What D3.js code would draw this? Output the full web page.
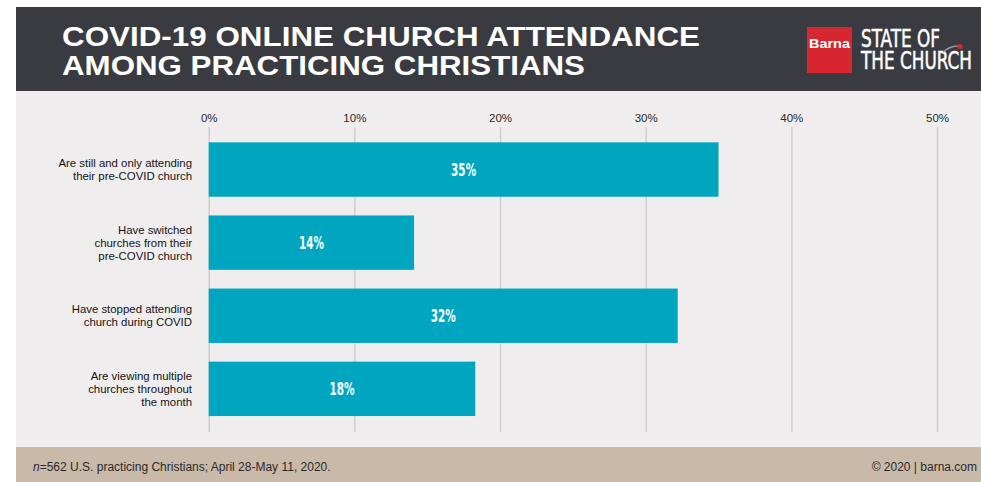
<!DOCTYPE html>
<html>
<head>
<meta charset="utf-8">
<script src="https://cdn.jsdelivr.net/npm/d3@7"></script>
<style>
  html, body { margin: 0; padding: 0; background: #ffffff; }
  svg { display: block; font-family: "Liberation Sans", Arial, sans-serif; }
</style>
</head>
<body>
<div id="chart"></div>
<script>
// chart data
let categories = [
    ["Are still and only attending", "their pre-COVID church"],
    ["Have switched", "churches from their", "pre-COVID church"],
    ["Have stopped attending", "church during COVID"],
    ["Are viewing multiple", "churches throughout", "the month"]
]
let values = [35.0, 14.1, 32.2, 18.3]
let valueLabels = ["35%", "14%", "32%", "18%"]
let ticks = [0, 10, 20, 30, 40, 50]
let tickLabels = ["0%", "10%", "20%", "30%", "40%", "50%"]

let width = 981
let height = 482

let svg = d3.select("#chart")
    .append("svg")
        .attr("width", width)
        .attr("height", height)

// backgrounds: header, plot area, footer
svg.append("rect").attr("x", 16).attr("y", 7).attr("width", width - 16).attr("height", 84).attr("fill", "#393b40")
svg.append("rect").attr("x", 16).attr("y", 91).attr("width", width - 16).attr("height", 356).attr("fill", "#efedee")
svg.append("rect").attr("x", 16).attr("y", 447).attr("width", width - 16).attr("height", 35).attr("fill", "#c9b9a9")

// TITLE
svg.append("text")
    .attr("x", 62).attr("y", 46)
    .attr("fill", "#ffffff")
    .attr("font-size", 28)
    .attr("font-weight", "bold")
    .attr("textLength", 638).attr("lengthAdjust", "spacingAndGlyphs")
    .text("COVID-19 ONLINE CHURCH ATTENDANCE")
svg.append("text")
    .attr("x", 62).attr("y", 75)
    .attr("fill", "#ffffff")
    .attr("font-size", 28)
    .attr("font-weight", "bold")
    .attr("textLength", 523).attr("lengthAdjust", "spacingAndGlyphs")
    .text("AMONG PRACTICING CHRISTIANS")

// logo
svg.append("rect").attr("x", 807).attr("y", 27).attr("width", 45).attr("height", 46).attr("fill", "#d7262f")
svg.append("text")
    .attr("x", 809).attr("y", 48)
    .attr("fill", "#ffffff")
    .attr("font-size", 13)
    .attr("font-weight", "bold")
    .attr("textLength", 41).attr("lengthAdjust", "spacingAndGlyphs")
    .text("Barna")

svg.append("text")
    .attr("x", 861).attr("y", 47)
    .attr("fill", "#ffffff")
    .attr("stroke", "#ffffff")
    .attr("stroke-width", 0.5)
    .attr("font-size", 24)
    .attr("font-family", "'Liberation Sans Narrow', 'DejaVu Sans Condensed', sans-serif")
    .attr("textLength", 79).attr("lengthAdjust", "spacingAndGlyphs")
    .text("STATE OF")
svg.append("text")
    .attr("x", 861).attr("y", 69)
    .attr("fill", "#ffffff")
    .attr("stroke", "#ffffff")
    .attr("stroke-width", 0.5)
    .attr("font-size", 24)
    .attr("font-family", "'Liberation Sans Narrow', 'DejaVu Sans Condensed', sans-serif")
    .attr("textLength", 111).attr("lengthAdjust", "spacingAndGlyphs")
    .text("THE CHURCH")

svg.append("path")
    .attr("d", "M943,52 Q950,46 958,46")
    .attr("fill", "none")
    .attr("stroke", "#9a9ca0")
    .attr("stroke-width", 1.3)
svg.append("circle").attr("cx", 960).attr("cy", 46.5).attr("r", 2.6).attr("fill", "#d7262f")

// scales
let x = d3.scaleLinear()
    .domain([0, 50])
    .range([208.7, 937])

let y = d3.scaleBand()
    .domain(d3.range(values.length))
    .range([133, 425.4])
    .paddingInner(0.256)
    .paddingOuter(0.128)

// gridlines
svg.append("g")
    .attr("transform", "translate(0,127)")
    .call(d3.axisBottom(x).tickValues(ticks).tickSize(305).tickFormat(""))
    .call(g => g.select(".domain").remove())
    .call(g => g.selectAll(".tick line").attr("stroke", "#cfcfcf").attr("stroke-width", 1.5))

// tick labels
svg.append("g")
    .attr("transform", "translate(0,127)")
    .call(d3.axisTop(x).tickValues(ticks).tickSize(0).tickPadding(5)
        .tickFormat((d, i) => tickLabels[i]))
    .call(g => g.select(".domain").remove())
    .call(g => g.selectAll(".tick text")
        .attr("fill", "#2a2a2a")
        .attr("font-size", 11.5)
        .attr("font-family", "'Liberation Sans', Arial, sans-serif"))

// bars
svg.selectAll("rect.bar")
    .data(values)
    .join("rect")
    .attr("class", "bar")
    .attr("x", x(0))
    .attr("y", (d, i) => y(i))
    .attr("width", d => x(d) - x(0))
    .attr("height", y.bandwidth())
    .attr("fill", "#00a6c0")

// value labels
svg.selectAll("text.value")
    .data(values)
    .join("text")
    .attr("class", "value")
    .attr("x", d => (x(0) + x(d)) / 2 - 12.5)
    .attr("y", (d, i) => y(i) + y.bandwidth() / 2 + 6)
    .attr("fill", "#ffffff")
    .attr("font-size", 17)
    .attr("font-weight", "bold")
    .attr("font-family", "'Liberation Sans Narrow', 'DejaVu Sans Condensed', sans-serif")
    .attr("textLength", 25).attr("lengthAdjust", "spacingAndGlyphs")
    .text((d, i) => valueLabels[i])

// category labels
let lineHeight = 13
svg.selectAll("text.category")
    .data(categories)
    .join("text")
    .attr("class", "category")
    .attr("text-anchor", "end")
    .attr("fill", "#141414")
    .attr("font-size", 11.4)
    .each(function(lines, i) {
        let cy = y(i) + y.bandwidth() / 2
        let top = cy - (lines.length - 1) * lineHeight / 2 + 4
        d3.select(this).selectAll("tspan")
            .data(lines)
            .join("tspan")
            .attr("x", 192)
            .attr("y", (l, j) => top + j * lineHeight)
            .text(l => l)
    })

// footer
let note = svg.append("text")
    .attr("x", 33).attr("y", 471)
    .attr("fill", "#2b2b2b")
    .attr("font-size", 12)
note.append("tspan").attr("font-style", "italic").text("n")
note.append("tspan").text("=562 U.S. practicing Christians; April 28-May 11, 2020.")

svg.append("text")
    .attr("x", 977).attr("y", 471)
    .attr("text-anchor", "end")
    .attr("fill", "#2b2b2b")
    .attr("font-size", 12)
    .text("© 2020 | barna.com")
</script>
</body>
</html>
